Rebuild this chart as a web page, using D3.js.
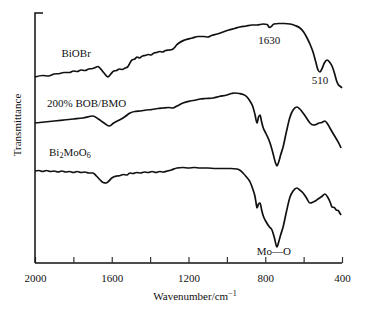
<!DOCTYPE html>
<html>
<head>
<meta charset="utf-8">
<script src="https://cdn.jsdelivr.net/npm/d3@7/dist/d3.min.js"></script>
<style>
  body { margin: 0; background: #fff; }
  text { font-family: "Liberation Serif", "Times New Roman", serif; fill: #111; }
</style>
</head>
<body>
<svg id="chart" width="368" height="315"></svg>
<script>
// ---- data (wavenumber cm^-1, transmittance in arbitrary offset units) ----
const xTicks = [2000, 1800, 1600, 1400, 1200, 1000, 800, 600, 400];
const xTickLabels = ["2000", "", "1600", "", "1200", "", "800", "", "400"];

const biobr = [
  [2000,186],[1960,187.5],[1930,187],[1900,189],[1870,189.5],[1850,190.5],[1820,190.5],[1800,192],[1780,191.5],
  [1760,193],[1740,192.5],[1720,194],[1700,194.5],[1685,195.5],[1672,196.5],[1655,193.5],[1640,190],[1620,186],
  [1605,189],[1590,192],[1575,192.5],[1560,194],[1545,193.5],[1530,195],[1518,196],[1508,199],[1495,203],
  [1480,204],[1468,206],[1455,205],[1440,207],[1425,207.5],[1410,208.5],[1395,208],[1380,210],[1365,210.5],
  [1350,211.5],[1335,211],[1320,212.5],[1300,213],[1285,213.5],[1275,215],[1262,218],[1250,220],[1220,223],
  [1180,225],[1150,226.5],[1120,226.5],[1100,226],[1080,227.5],[1050,229],[1020,231],[990,233],[960,234.5],
  [932,236],[900,237],[870,238],[843,238],[810,239],[790,238.5],[778,235.5],[768,236.5],[755,239],[730,239.5],
  [700,239.5],[671,239],[645,237.5],[619,235],[600,231],[582,225],[565,218],[551,211],[538,202],[525,193],
  [515,191],[505,194],[492,200],[478,203],[465,201],[450,196],[438,189],[428,182],[418,178],[408,176.5],[400,175]
];

const bobBmo = [
  [2000,140],[1950,141],[1900,142],[1850,143],[1800,144],[1750,145],[1698,147],[1670,144],[1640,140],
  [1614,137],[1590,140],[1560,143],[1530,146.5],[1505,150],[1480,151.5],[1450,152],[1420,153],[1390,153.5],
  [1360,154.5],[1333,155],[1305,155.5],[1281,155],[1260,157],[1229,160],[1190,162],[1160,163],[1140,164],
  [1110,164.5],[1072,165],[1040,166.5],[1000,168],[975,169.5],[958,170],[935,169.5],[915,168.5],[895,166],
  [880,162],[864,156],[853,148],[843,140],[835,146],[827,148],[820,142],[812,136],[795,129],[775,120],
  [760,110],[748,101],[739,97],[730,101],[720,108],[707,116],[690,131],[671,146],[655,153],[635,156],
  [620,154],[603,150],[585,145],[567,140],[550,138],[535,138.5],[520,140],[505,140.5],[489,142],[475,139],
  [463,135],[445,129],[426,123],[412,118],[405,115]
];

const bmo = [
  [2000,92],[1980,92.5],[1960,91.5],[1940,92.5],[1920,91.5],[1900,92],[1880,91],[1860,92],[1840,91],
  [1820,91.5],[1800,90.5],[1780,91.5],[1760,90.5],[1740,91],[1720,90],[1698,90],[1680,87],[1660,83],
  [1645,80.5],[1630,80],[1615,82],[1600,85],[1585,86.5],[1573,87],[1555,87.5],[1540,88.5],[1521,88],
  [1505,90],[1490,89.5],[1470,90.5],[1450,90],[1430,91],[1410,90.5],[1390,91.5],[1370,90.5],[1350,91.5],
  [1333,91],[1310,92],[1290,93],[1260,95],[1230,95.5],[1200,95],[1170,95.5],[1140,95],[1100,95],
  [1060,94.5],[1020,94.5],[980,94.5],[947,94],[930,92.5],[916,90],[900,86.5],[879,81],[865,74],
  [853,66],[847,59],[843,55],[835,59],[827,60],[820,54],[812,48],[795,41],[778,36],[765,33],
  [752,25],[739,16],[730,21],[720,28],[707,36],[690,51],[671,66],[655,72],[635,75],[620,73],
  [603,70],[585,65],[567,60],[550,61],[535,62.5],[525,64],[505,66.5],[489,69],[475,66],[460,60],
  [452,56],[440,55.5],[430,53],[420,52.5],[412,50],[405,48]
];

const seriesLabels = [
  { text: "BiOBr", w: 1862, v: 206 },
  { text: "200% BOB/BMO", w: 1937, v: 156 },
  { text: "Bi|2|MoO|6", w: 1927, v: 107 }
];
const annotations = [
  { text: "1630", w: 779, v: 219 },
  { text: "510", w: 515, v: 179 },
  { text: "Mo\u2014O", w: 755, v: 8 }
];

// ---- chart ----
const svg = d3.select("#chart");
const x = d3.scaleLinear().domain([2000, 400]).range([35, 342]);
const y = d3.scaleLinear().domain([0, 250]).range([263, 13]);

// axes
const xAxis = d3.axisBottom(x)
  .tickValues(xTicks)
  .tickSize(-6)
  .tickPadding(11)
  .tickFormat((d, i) => xTickLabels[i]);
const gx = svg.append("g").attr("transform", `translate(0,${y(0)})`).call(xAxis);
gx.select(".domain").attr("stroke", "#111").attr("stroke-width", 1.5).attr("d", `M${x(2000)},0H${x(400)}`);
gx.selectAll(".tick line").attr("stroke", "#333").attr("stroke-width", 1.2);
gx.selectAll(".tick text").attr("font-size", 11).attr("fill", "#111")
  .style("font-family", '"Liberation Serif", serif');

// left axis line with top tick
svg.append("path")
  .attr("d", `M${x(2000) + 8},${y(250)}H${x(2000)}V${y(0)}`)
  .attr("fill", "none").attr("stroke", "#111").attr("stroke-width", 1.5);

// axis titles
const xt = svg.append("text").attr("x", 195).attr("y", 300).attr("text-anchor", "middle").attr("font-size", 11);
xt.append("tspan").text("Wavenumber/cm");
xt.append("tspan").attr("dy", -4).attr("font-size", 8).text("\u22121");

svg.append("text")
  .attr("transform", "translate(21,125) rotate(-90)")
  .attr("text-anchor", "middle").attr("font-size", 11)
  .text("Transmittance");

// curves
const line = d3.line()
  .x(d => x(d[0])).y(d => y(d[1]))
  .curve(d3.curveMonotoneX);
[biobr, bobBmo, bmo].forEach(s => {
  svg.append("path").datum(s).attr("d", line)
    .attr("fill", "none").attr("stroke", "#111").attr("stroke-width", 1.7)
    .attr("stroke-linejoin", "round");
});

// series labels (with subscripts marked by |)
seriesLabels.forEach(l => {
  const t = svg.append("text").attr("x", x(l.w)).attr("y", y(l.v)).attr("font-size", 11);
  l.text.split("|").forEach((part, i) => {
    if (i % 2 === 1) {
      t.append("tspan").attr("dy", 2).attr("font-size", 8).text(part);
    } else {
      t.append("tspan").attr("dy", i === 0 ? 0 : -2).text(part);
    }
  });
});

annotations.forEach(a => {
  svg.append("text").attr("x", x(a.w)).attr("y", y(a.v))
    .attr("text-anchor", "middle").attr("font-size", 11).text(a.text);
});
</script>
</body>
</html>
